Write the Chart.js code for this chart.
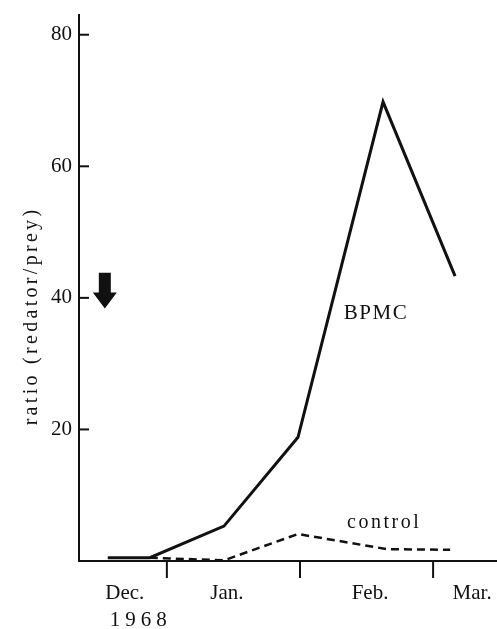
<!DOCTYPE html>
<html>
<head>
<meta charset="utf-8">
<script src="https://cdn.jsdelivr.net/npm/chart.js@4.4.1/dist/chart.umd.min.js"></script>
<style>
  html, body { margin: 0; padding: 0; background: #fff; }
</style>
</head>
<body>
<canvas id="chart" width="497" height="629"></canvas>
<script>
// x values are months counted from 1 Dec 1968 (1 = 1 Jan, 2 = 1 Feb, 3 = 1 Mar)
const bpmcX = [0.556, 0.872, 1.429, 1.985, 2.624, 3.165];
const bpmcY = [0.5, 0.5, 5.3, 18.8, 69.8, 43.3];
const controlX = [0.872, 1.429, 1.985, 2.654, 3.128];
const controlY = [0.5, 0.1, 4.1, 1.8, 1.7];

const yTicks = [20, 40, 60, 80];
const monthLabels = ["Dec.", "Jan.", "Feb.", "Mar."];
const monthLabelPos = [0.684, 1.451, 2.526, 3.293];
const monthBounds = [1, 2, 3];
const yearLabel = "1968";
const treatmentX = 0.534; // arrow: BPMC applied

const serif = "'Liberation Serif', 'Times New Roman', serif";
const ink = "#111";

function toPoints(xs, ys) {
  return xs.map((x, i) => ({ x: x, y: ys[i] }));
}

// extra drawing: inward y ticks, month boundary ticks, labels, arrow
const decorations = {
  id: "decorations",
  afterDraw(chart) {
    const ctx = chart.ctx;
    const xs = chart.scales.x;
    const ys = chart.scales.y;
    const area = chart.chartArea;
    ctx.save();
    ctx.strokeStyle = ink;
    ctx.fillStyle = ink;
    ctx.lineWidth = 2;

    // y ticks point into the plot
    yTicks.forEach(v => {
      const py = ys.getPixelForValue(v);
      ctx.beginPath();
      ctx.moveTo(area.left, py);
      ctx.lineTo(area.left + 10, py);
      ctx.stroke();
    });

    // month boundaries hang below the x axis
    monthBounds.forEach(v => {
      const px = xs.getPixelForValue(v);
      ctx.beginPath();
      ctx.moveTo(px, area.bottom);
      ctx.lineTo(px, area.bottom + 17);
      ctx.stroke();
    });

    // y axis title
    ctx.save();
    ctx.translate(32, 316);
    ctx.rotate(-Math.PI / 2);
    ctx.font = "20px " + serif;
    ctx.letterSpacing = "3.3px";
    ctx.textAlign = "center";
    ctx.textBaseline = "middle";
    ctx.fillText("ratio (redator/prey)", 0, 0);
    ctx.restore();

    // year under Dec.
    ctx.font = "21px " + serif;
    ctx.letterSpacing = "5px";
    ctx.textAlign = "center";
    ctx.textBaseline = "middle";
    ctx.fillText(yearLabel, xs.getPixelForValue(monthLabelPos[0]) + 16, 620);

    // series labels
    ctx.font = "21px " + serif;
    ctx.letterSpacing = "1.5px";
    ctx.fillText("BPMC", xs.getPixelForValue(2.571), ys.getPixelForValue(37.7));
    ctx.font = "20px " + serif;
    ctx.letterSpacing = "2.5px";
    ctx.fillText("control", xs.getPixelForValue(2.632), ys.getPixelForValue(5.8));
    ctx.letterSpacing = "0px";

    // block arrow pointing down
    const ax = xs.getPixelForValue(treatmentX);
    const top = ys.getPixelForValue(43.8);
    const tip = ys.getPixelForValue(38.4);
    const neck = top + (tip - top) * 0.55;
    ctx.beginPath();
    ctx.moveTo(ax - 6, top);
    ctx.lineTo(ax + 6, top);
    ctx.lineTo(ax + 6, neck);
    ctx.lineTo(ax + 12, neck);
    ctx.lineTo(ax, tip);
    ctx.lineTo(ax - 12, neck);
    ctx.lineTo(ax - 6, neck);
    ctx.closePath();
    ctx.fill();

    ctx.restore();
  }
};

new Chart(document.getElementById("chart"), {
  type: "line",
  data: {
    datasets: [
      {
        label: "BPMC",
        data: toPoints(bpmcX, bpmcY),
        borderColor: ink,
        borderWidth: 3,
        pointRadius: 0,
        tension: 0
      },
      {
        label: "control",
        data: toPoints(controlX, controlY),
        borderColor: ink,
        borderWidth: 2.5,
        borderDash: [8, 5],
        pointRadius: 0,
        tension: 0
      }
    ]
  },
  options: {
    responsive: false,
    animation: false,
    layout: { padding: { top: 15, right: 0, left: 0, bottom: 0 } },
    plugins: {
      legend: { display: false },
      tooltip: { enabled: false }
    },
    scales: {
      x: {
        type: "linear",
        min: 0.34,
        max: 3.48,
        grid: { display: false, drawTicks: false },
        border: { display: true, color: ink, width: 2 },
        afterFit: scale => {
          scale.height = 68;
          scale.paddingLeft = 0;
          scale.paddingRight = 0;
        },
        afterBuildTicks: scale => {
          scale.ticks = monthLabelPos.map(v => ({ value: v }));
        },
        ticks: {
          color: ink,
          padding: 20,
          maxRotation: 0,
          font: { family: serif, size: 21 },
          callback: (value, index) => monthLabels[index]
        }
      },
      y: {
        min: 0,
        max: 83,
        grid: { display: false, drawTicks: false },
        border: { display: true, color: ink, width: 2 },
        afterFit: scale => {
          scale.width = 79;
          scale.paddingTop = 0;
          scale.paddingBottom = 0;
        },
        afterBuildTicks: scale => {
          scale.ticks = yTicks.map(v => ({ value: v }));
        },
        ticks: {
          color: ink,
          padding: 7,
          font: { family: serif, size: 21 }
        }
      }
    }
  },
  plugins: [decorations]
});
</script>
</body>
</html>
